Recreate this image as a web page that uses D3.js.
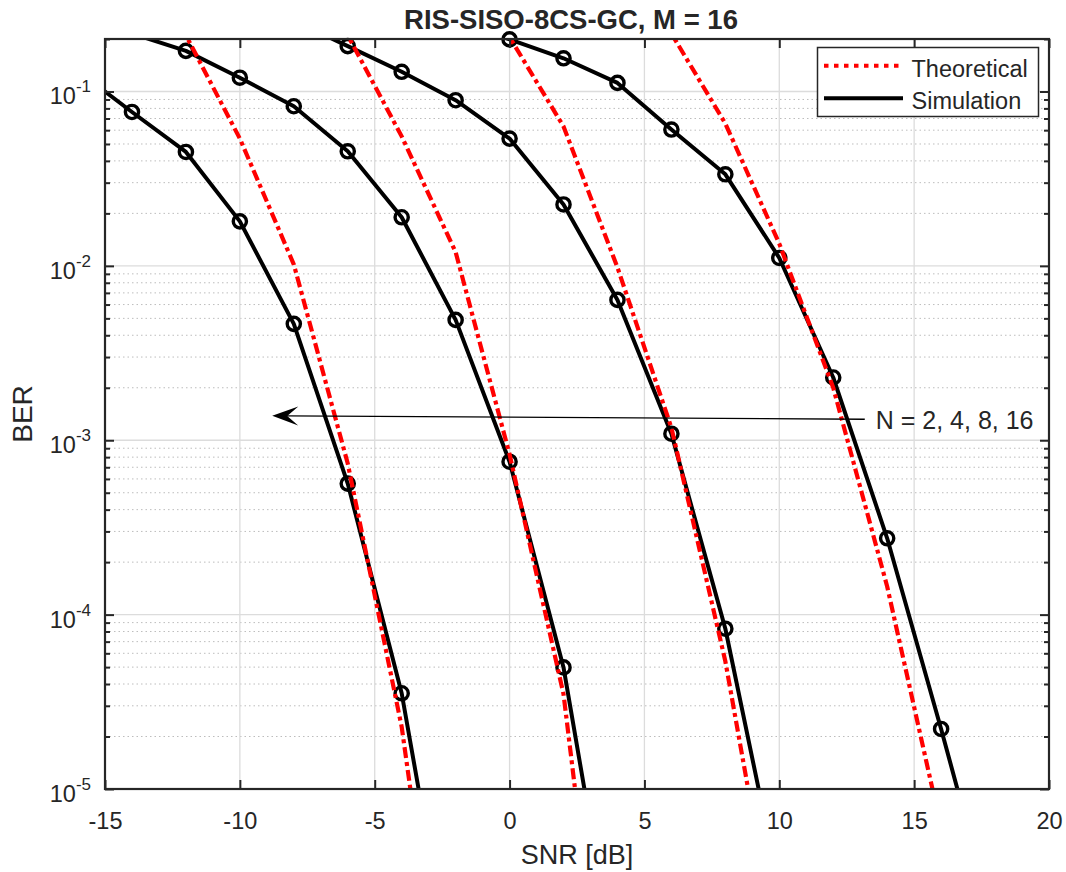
<!DOCTYPE html>
<html><head><meta charset="utf-8">
<script src="https://cdn.jsdelivr.net/npm/d3@7"></script>
<style>
body{margin:0;background:#fff}
svg{display:block}
text{font-family:"Liberation Sans",Arial,Helvetica,sans-serif;fill:#262626}
</style>
</head><body>
<svg id="chart" width="1066" height="872"></svg>
<script>
// ---------- data ----------
const titleText = "RIS-SISO-8CS-GC, M = 16";
const xLabel = "SNR [dB]";
const yLabel = "BER";
const xTicks = [-15, -10, -5, 0, 5, 10, 15, 20];
const yDecades = [-5, -4, -3, -2, -1];
const legendLabels = ["Theoretical", "Simulation"];
const annotationText = "N = 2, 4, 8, 16";
const arrowStart = [13.17, 1.32e-3];
const arrowEnd = [-8.8, 1.38e-3];

// Simulation (markers every 2 dB)
const simSnr_N16 = [-16, -14, -12, -10, -8, -6, -4, -2];
const simBer_N16 = [0.131, 0.0763, 0.045, 0.018, 0.00465, 5.64e-4, 3.54e-5, 6.3e-7];
const simSnr_N8 = [-14, -12, -10, -8, -6, -4, -2, 0, 2, 4];
const simBer_N8 = [0.215, 0.171, 0.12, 0.0823, 0.0454, 0.019, 0.0049, 7.53e-4, 4.98e-5, 7.9e-7];
const simSnr_N4 = [-8, -6, -4, -2, 0, 2, 4, 6, 8, 10];
const simBer_N4 = [0.255, 0.182, 0.1297, 0.0891, 0.0537, 0.0225, 0.00638, 0.00109, 8.3e-5, 2.7e-6];
const simSnr_N2 = [-2, 0, 2, 4, 6, 8, 10, 12, 14, 16, 18];
const simBer_N2 = [0.25, 0.199, 0.155, 0.112, 0.0605, 0.0335, 0.0111, 0.00229, 2.74e-4, 2.21e-5, 1.6e-6];

// Theoretical
const thSnr_N16 = [-14, -12, -10, -8, -6, -4, -2];
const thBer_N16 = [0.45, 0.21, 0.0537, 0.0102, 7.35e-4, 2.27e-5, 1.4e-7];
const thSnr_N8 = [-8, -6, -4, -2, 0, 2, 4];
const thBer_N8 = [0.45, 0.21, 0.0553, 0.012, 8.3e-4, 3.5e-5, 1.0e-7];
const thSnr_N4 = [-2, 0, 2, 4, 6, 8, 10];
const thBer_N4 = [0.45, 0.205, 0.063, 0.0098, 0.00118, 5.4e-5, 1.0e-6];
const thSnr_N2 = [4, 6, 8, 10, 12, 14, 16];
const thBer_N2 = [0.45, 0.215, 0.0655, 0.0134, 0.002, 1.45e-4, 6.0e-6];

const simSeries = [
  d3.zip(simSnr_N16, simBer_N16), d3.zip(simSnr_N8, simBer_N8),
  d3.zip(simSnr_N4, simBer_N4), d3.zip(simSnr_N2, simBer_N2)];
const thSeries = [
  d3.zip(thSnr_N16, thBer_N16), d3.zip(thSnr_N8, thBer_N8),
  d3.zip(thSnr_N4, thBer_N4), d3.zip(thSnr_N2, thBer_N2)];

// ---------- layout ----------
const M = {l: 105, r: 1049, t: 39, b: 789};
const ink = "#262626";
const svg = d3.select("#chart");
const x = d3.scaleLinear().domain([-15, 20]).range([M.l, M.r]);
const y = d3.scaleLog().domain([1e-5, 0.2]).range([M.b, M.t]);

const minorVals = [];
yDecades.forEach(k => { for (let j = 2; j <= 9; j++) { const v = j * Math.pow(10, k); if (v <= 0.2 + 1e-12) minorVals.push(v); } });
const majorVals = yDecades.map(k => Math.pow(10, k));

// background
svg.append("rect").attr("x", M.l).attr("y", M.t).attr("width", M.r - M.l).attr("height", M.b - M.t).attr("fill", "#fff");

// grid
const grid = svg.append("g");
grid.selectAll(".gm").data(minorVals).join("line")
  .attr("x1", M.l).attr("x2", M.r).attr("y1", d => y(d)).attr("y2", d => y(d))
  .attr("stroke", "#bdbdbd").attr("stroke-width", 1).attr("stroke-dasharray", "1.5,3");
grid.selectAll(".gx").data(xTicks).join("line")
  .attr("x1", d => x(d)).attr("x2", d => x(d)).attr("y1", M.t).attr("y2", M.b)
  .attr("stroke", "#dcdcdc").attr("stroke-width", 1.3);
grid.selectAll(".gy").data(majorVals).join("line")
  .attr("x1", M.l).attr("x2", M.r).attr("y1", d => y(d)).attr("y2", d => y(d))
  .attr("stroke", "#dcdcdc").attr("stroke-width", 1.3);

// clip
svg.append("clipPath").attr("id", "plotclip").append("rect")
  .attr("x", M.l).attr("y", M.t).attr("width", M.r - M.l).attr("height", M.b - M.t);

const line = d3.line().x(d => x(d[0])).y(d => y(d[1]));
const inDomain = d => d[0] >= -15 && d[0] <= 20 && d[1] >= 1e-5 && d[1] <= 0.2;

// simulation curves
const gSim = svg.append("g");
gSim.append("g").attr("clip-path", "url(#plotclip)")
  .selectAll("path").data(simSeries).join("path")
  .attr("d", line).attr("fill", "none").attr("stroke", "#000").attr("stroke-width", 4)
  .attr("stroke-linejoin", "round");
gSim.selectAll("g.mk").data(simSeries).join("g").attr("class", "mk")
  .selectAll("circle").data(d => d.filter(inDomain)).join("circle")
  .attr("cx", d => x(d[0])).attr("cy", d => y(d[1])).attr("r", 6.6)
  .attr("fill", "none").attr("stroke", "#000").attr("stroke-width", 3.4);

// theoretical curves
svg.append("g").attr("clip-path", "url(#plotclip)")
  .selectAll("path").data(thSeries).join("path")
  .attr("d", line).attr("fill", "none").attr("stroke", "#ff0000").attr("stroke-width", 4.2)
  .attr("stroke-dasharray", "11,4,4,4");

// axes
const tickFmt = d => String(d);
const gx = svg.append("g").attr("transform", `translate(0,${M.b})`)
  .call(d3.axisBottom(x).tickValues(xTicks).tickSize(-9).tickPadding(0).tickFormat(tickFmt));
gx.select(".domain").remove();
gx.selectAll("line").attr("stroke", ink).attr("stroke-width", 2);
gx.selectAll("text").attr("dy", null).attr("y", 40).attr("font-size", 23.5).attr("fill", ink)
  .attr("font-family", "Liberation Sans, Arial, sans-serif");

const gxt = svg.append("g").attr("transform", `translate(0,${M.t})`)
  .call(d3.axisTop(x).tickValues(xTicks).tickSize(-9).tickFormat(""));
gxt.select(".domain").remove();
gxt.selectAll("line").attr("stroke", ink).attr("stroke-width", 2);

function yAxis(gen, xpos) {
  const g1 = svg.append("g").attr("transform", `translate(${xpos},0)`)
    .call(gen(y).tickValues(majorVals).tickSize(-9).tickFormat(""));
  g1.select(".domain").remove();
  g1.selectAll("line").attr("stroke", ink).attr("stroke-width", 2);
  const g2 = svg.append("g").attr("transform", `translate(${xpos},0)`)
    .call(gen(y).tickValues(minorVals).tickSize(-5).tickFormat(""));
  g2.select(".domain").remove();
  g2.selectAll("line").attr("stroke", ink).attr("stroke-width", 2);
}
yAxis(d3.axisLeft, M.l);
yAxis(d3.axisRight, M.r);

// y tick labels 10^k
const yl = svg.append("g").selectAll("text").data(yDecades).join("text")
  .attr("x", 91).attr("y", d => y(Math.pow(10, d)) + 13)
  .attr("text-anchor", "end").attr("font-size", 23.5);
yl.append("tspan").text("10");
yl.append("tspan").attr("dy", -12).attr("font-size", 17).text(d => String(d));

// box
svg.append("rect").attr("x", M.l).attr("y", M.t).attr("width", M.r - M.l).attr("height", M.b - M.t)
  .attr("fill", "none").attr("stroke", ink).attr("stroke-width", 2.2);

// labels
svg.append("text").attr("x", 571).attr("y", 29).attr("text-anchor", "middle")
  .attr("font-size", 27.5).attr("font-weight", "bold").attr("fill", "#000").text(titleText);
svg.append("text").attr("x", 577).attr("y", 864).attr("text-anchor", "middle")
  .attr("font-size", 27).text(xLabel);
svg.append("text").attr("transform", `translate(32,${(M.t + M.b) / 2}) rotate(-90)`)
  .attr("text-anchor", "middle").attr("font-size", 28).text(yLabel);

// annotation arrow
const ax0 = x(arrowStart[0]), ay0 = y(arrowStart[1]);
const ax1 = x(arrowEnd[0]), ay1 = y(arrowEnd[1]);
svg.append("line").attr("x1", ax0).attr("y1", ay0).attr("x2", ax1 + 14).attr("y2", ay1)
  .attr("stroke", "#000").attr("stroke-width", 1.4);
{
  const dx = ax0 - ax1, dy = ay0 - ay1, L = Math.hypot(dx, dy);
  const ux = dx / L, uy = dy / L, nx = -uy, ny = ux;
  const pts = [
    [ax1, ay1],
    [ax1 + ux * 26 + nx * 9.5, ay1 + uy * 26 + ny * 9.5],
    [ax1 + ux * 15, ay1 + uy * 15],
    [ax1 + ux * 26 - nx * 9.5, ay1 + uy * 26 - ny * 9.5]];
  svg.append("path").attr("d", "M" + pts.map(p => p.join(",")).join("L") + "Z").attr("fill", "#000");
}
svg.append("text").attr("x", ax0 + 11).attr("y", ay0 + 10).attr("font-size", 25).text(annotationText);

// legend
const lg = svg.append("g");
lg.append("rect").attr("x", 817.5).attr("y", 47.5).attr("width", 221).attr("height", 69)
  .attr("fill", "#fff").attr("stroke", ink).attr("stroke-width", 1.5);
lg.append("line").attr("x1", 824).attr("x2", 903).attr("y1", 65.7).attr("y2", 65.7)
  .attr("stroke", "#ff0000").attr("stroke-width", 4).attr("stroke-dasharray", "4.5,5.5");
lg.append("line").attr("x1", 824).attr("x2", 903).attr("y1", 98.3).attr("y2", 98.3)
  .attr("stroke", "#000").attr("stroke-width", 4);
lg.selectAll("text").data(legendLabels).join("text")
  .attr("x", 911.5).attr("y", (d, i) => i === 0 ? 76.5 : 108.5).attr("font-size", 23.5).text(d => d);
</script>
</body></html>
